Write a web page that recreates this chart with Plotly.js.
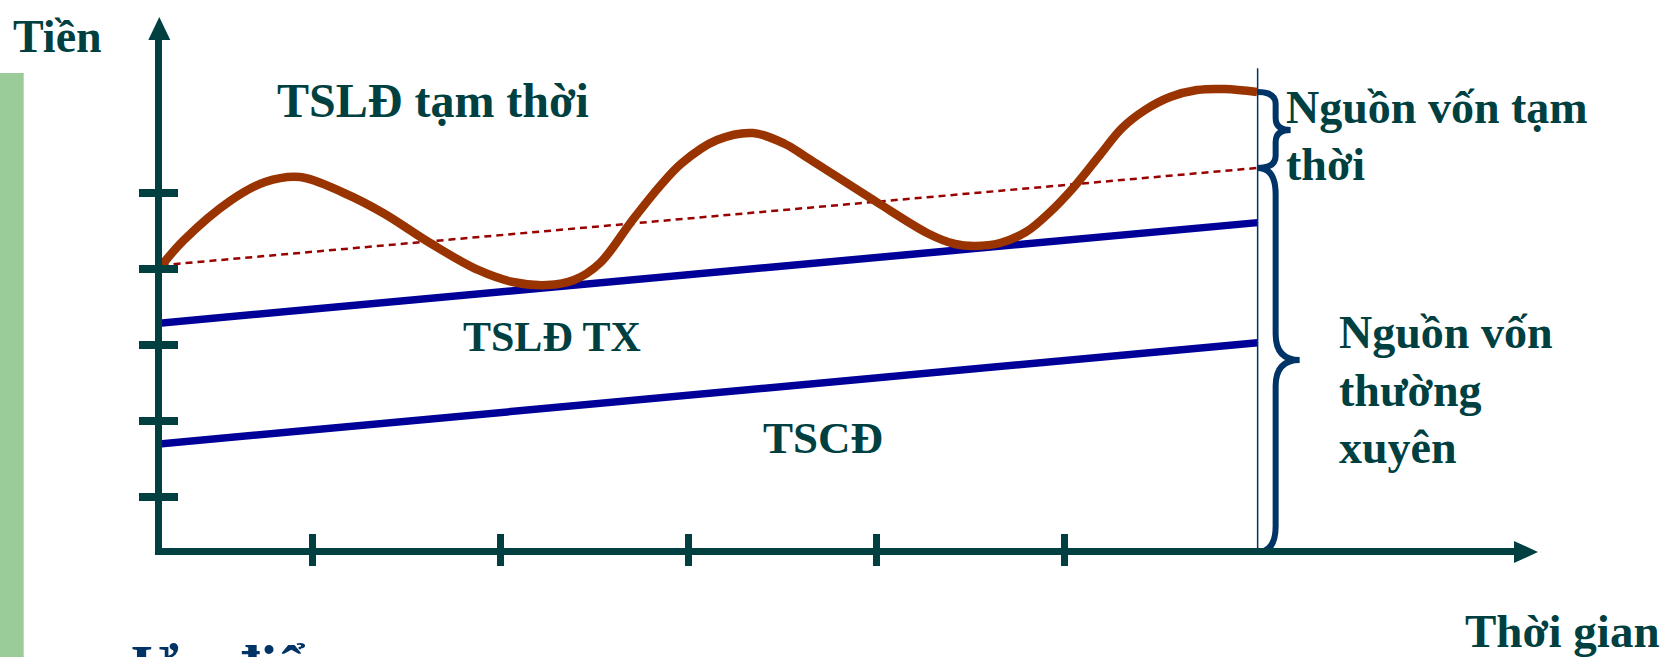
<!DOCTYPE html>
<html>
<head>
<meta charset="utf-8">
<script src="https://cdn.plot.ly/plotly-3.0.1.min.js"></script>
<style>
  html, body { margin: 0; padding: 0; background: #ffffff; }
  #chart { width: 1676px; height: 657px; }
</style>
</head>
<body>
<div id="chart"></div>
<script>
// Tick positions on the time axis and on the money axis
const timeTicks = [1, 2, 3, 4, 5];
const moneyTicks = [1, 2, 3, 4, 5];

// Start and end of the period shown
const periodSpan = [0.2, 6.03];
// Upper edge of fixed assets (TSCĐ)
const fixedAssets = [1.70, 3.03];
// Upper edge of permanent current assets (TSLĐ TX)
const permanentCurrentAssets = [3.29, 4.61];
// Level of long-term (permanent) funding
const permanentFunding = [4.05, 5.33];

// Total assets, including temporary current assets
const waveTime  = [0.202, 0.319, 0.564, 0.750, 0.936, 1.170, 1.378, 1.628, 1.883, 2.069, 2.250, 2.394, 2.532, 2.697, 2.851, 2.968, 3.154, 3.346, 3.516, 3.628, 3.995, 4.282, 4.420, 4.527, 4.660, 4.798, 4.926, 5.053, 5.191, 5.309, 5.431, 5.564, 5.707, 5.856, 6.027];
const waveValue = [4.053, 4.382, 4.895, 5.145, 5.211, 5.000, 4.737, 4.342, 3.987, 3.829, 3.789, 3.855, 4.079, 4.618, 5.092, 5.395, 5.697, 5.789, 5.645, 5.474, 4.895, 4.461, 4.329, 4.303, 4.342, 4.487, 4.750, 5.079, 5.500, 5.855, 6.092, 6.263, 6.355, 6.368, 6.329];

// Vertical marker at the end of the period
const periodEndLine = [0.28, 6.64];
// Level of the time axis
const axisLevel = 0.276;

// ---- geometry ----
const W = 1676, H = 657;
const M = { l: 162, r: 162, t: 40, b: 109 };
const X_RANGE = [0.2021, 7.3936];
const Y_RANGE = [0.3289, 7.0132];
const PLOT_W = W - M.l - M.r, PLOT_H = H - M.t - M.b;
const PX_PER_X = PLOT_W / (X_RANGE[1] - X_RANGE[0]);
const PX_PER_Y = PLOT_H / (Y_RANGE[1] - Y_RANGE[0]);
const paperX = px => (px - M.l) / PLOT_W;
const paperY = py => (H - M.b - py) / PLOT_H;

const AXIS_COLOR = '#004040';
const TEXT_COLOR = '#004040';
const BRACE_COLOR = '#003366';
const FONT = 'Liberation Serif, Times New Roman, serif';

// Curly brace opening to the left, spanning yTop..yBot at x0
function bracePath(x0, yTop, yBot, armPx, tipPx, curlPx) {
  const ax = x0 + armPx / PX_PER_X, tx = x0 + tipPx / PX_PER_X;
  const r = curlPx / PX_PER_Y, ym = (yTop + yBot) / 2;
  return `M ${x0},${yTop} Q ${ax},${yTop} ${ax},${yTop - r} ` +
         `L ${ax},${ym + r} Q ${ax},${ym} ${tx},${ym} ` +
         `Q ${ax},${ym} ${ax},${ym - r} ` +
         `L ${ax},${yBot + r} Q ${ax},${yBot} ${x0},${yBot}`;
}

const traces = [
  { x: periodSpan, y: fixedAssets, mode: 'lines', line: { color: '#000099', width: 7.5 }, hoverinfo: 'skip' },
  { x: periodSpan, y: permanentCurrentAssets, mode: 'lines', line: { color: '#000099', width: 7.5 }, hoverinfo: 'skip' },
  { x: periodSpan, y: permanentFunding, mode: 'lines', line: { color: '#990000', width: 2.5, dash: '7px,5px' }, hoverinfo: 'skip' },
  { x: [periodSpan[1], periodSpan[1]], y: periodEndLine, mode: 'lines', line: { color: BRACE_COLOR, width: 1.5 }, hoverinfo: 'skip' },
  { x: waveTime, y: waveValue, mode: 'lines', line: { color: '#993300', width: 8.5, shape: 'spline', smoothing: 1 }, hoverinfo: 'skip' },
  // carriers for the inner tick marks
  { x: [], y: [], xaxis: 'x2', yaxis: 'y', mode: 'lines', hoverinfo: 'skip' },
  { x: [], y: [], xaxis: 'x', yaxis: 'y2', mode: 'lines', hoverinfo: 'skip' }
];

function label(text, left, baseline, size, color) {
  return {
    text: text, xref: 'paper', yref: 'paper',
    x: paperX(left), y: paperY(baseline - 0.33 * size),
    xanchor: 'left', yanchor: 'middle', showarrow: false,
    font: { family: FONT, size: size, color: color || TEXT_COLOR, weight: 'bold' }
  };
}

const annotations = [
  label('Tiền', 11, 52, 46),
  label('TSLĐ tạm thời', 275, 116, 48),
  label('TSLĐ TX', 461, 351, 42),
  label('TSCĐ', 761, 453, 45),
  label('Nguồn vốn tạm', 1284, 123, 46),
  label('thời', 1284, 180, 46),
  label('Nguồn vốn', 1337, 348, 46),
  label('thường', 1337, 406, 46),
  label('xuyên', 1337, 463, 46),
  label('Thời gian', 1463, 647, 47),
  label('Ưu điểm', 129, 686, 60, '#003366')
];

const shapes = [
  { type: 'rect', xref: 'paper', yref: 'paper', layer: 'below',
    x0: paperX(0), x1: paperX(23.7), y0: paperY(73), y1: paperY(H),
    fillcolor: '#99CC99', line: { width: 0 } },
  // arrow heads of the two axes
  { type: 'path', xref: 'paper', yref: 'paper', xsizemode: 'pixel', ysizemode: 'pixel',
    xanchor: paperX(159.3), yanchor: paperY(40),
    path: 'M -11,0 L 11,0 L 0,23 Z', fillcolor: AXIS_COLOR, line: { width: 0 } },
  { type: 'path', xref: 'paper', yref: 'paper', xsizemode: 'pixel', ysizemode: 'pixel',
    xanchor: paperX(1514), yanchor: paperY(552),
    path: 'M 0,11 L 0,-11 L 24,0 Z', fillcolor: AXIS_COLOR, line: { width: 0 } },
  // braces for temporary and permanent funding
  { type: 'path', xref: 'x', yref: 'y', layer: 'above',
    path: bracePath(periodSpan[1], waveValue[waveValue.length - 1], permanentFunding[1], 18, 33, 12),
    line: { color: BRACE_COLOR, width: 6 }, fillcolor: 'rgba(0,0,0,0)' },
  { type: 'path', xref: 'x', yref: 'y', layer: 'above',
    path: bracePath(periodSpan[1], permanentFunding[1], axisLevel, 18, 42, 26),
    line: { color: BRACE_COLOR, width: 6 }, fillcolor: 'rgba(0,0,0,0)' }
];

const baseAxis = { showgrid: false, zeroline: false, showticklabels: false, fixedrange: true };

const layout = {
  width: W, height: H,
  margin: M,
  paper_bgcolor: '#ffffff', plot_bgcolor: '#ffffff',
  showlegend: false,
  xaxis: Object.assign({}, baseAxis, {
    range: X_RANGE, showline: true, linewidth: 7, linecolor: AXIS_COLOR,
    ticks: 'outside', ticklen: 11, tickwidth: 7, tickcolor: AXIS_COLOR, tickvals: timeTicks
  }),
  xaxis2: Object.assign({}, baseAxis, {
    range: X_RANGE, overlaying: 'x', anchor: 'y', side: 'bottom', showline: false,
    ticks: 'inside', ticklen: 14, tickwidth: 7, tickcolor: AXIS_COLOR, tickvals: timeTicks
  }),
  yaxis: Object.assign({}, baseAxis, {
    range: Y_RANGE, showline: true, linewidth: 7, linecolor: AXIS_COLOR,
    ticks: 'outside', ticklen: 16, tickwidth: 8, tickcolor: AXIS_COLOR, tickvals: moneyTicks
  }),
  yaxis2: Object.assign({}, baseAxis, {
    range: Y_RANGE, overlaying: 'y', anchor: 'x', side: 'left', showline: false,
    ticks: 'inside', ticklen: 16, tickwidth: 8, tickcolor: AXIS_COLOR, tickvals: moneyTicks
  }),
  shapes: shapes,
  annotations: annotations
};

Plotly.newPlot('chart', traces, layout, { staticPlot: true, displayModeBar: false });
</script>
</body>
</html>
